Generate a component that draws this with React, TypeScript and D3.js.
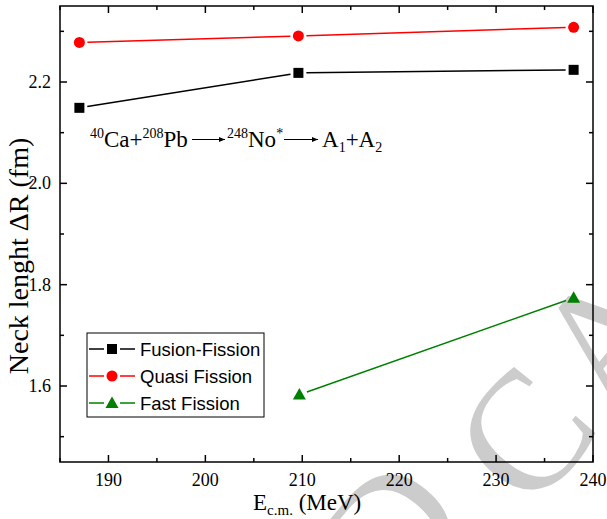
import React from "react";
import * as d3 from "d3";

const energies = [187, 209.6, 238];
const fusionFission = [2.149, 2.218, 2.224];
const quasiFission = [2.278, 2.291, 2.308];
const fastEnergies = [209.7, 238];
const fastFission = [1.583, 1.774];
const xTicks = [190, 200, 210, 220, 230, 240];
const xMinor = [185, 195, 205, 215, 225, 235];
const yTicks = [1.6, 1.8, 2.0, 2.2];
const yMinor = [1.5, 1.7, 1.9, 2.1, 2.3];
const seriesNames = ["Fusion-Fission", "Quasi Fission", "Fast Fission"];
const seriesColors = ["#000000", "#ff0000", "#008000"];
const watermarkLetters = ["D", "C", "A"];
const watermarkDx = [-160, 0, 128];
const watermarkDy = [-40, 0, 0];

const W = 607, H = 519;
const L = 60, R = 593, T = 6, B = 462;

function shorten(p0: [number, number], p1: [number, number], g: number) {
  const dx = p1[0] - p0[0], dy = p1[1] - p0[1];
  const len = Math.hypot(dx, dy);
  const ux = dx / len, uy = dy / len;
  return [p0[0] + ux * g, p0[1] + uy * g, p1[0] - ux * g, p1[1] - uy * g];
}

function Marker({ kind, x, y, color }: { kind: number; x: number; y: number; color: string }) {
  if (kind === 0) return <rect x={x - 5} y={y - 5} width={10} height={10} fill={color} />;
  if (kind === 1) return <circle cx={x} cy={y} r={5.5} fill={color} />;
  return <path d={`M${x},${y - 6.5}L${x + 6.5},${y + 5}L${x - 6.5},${y + 5}Z`} fill={color} />;
}

export default function App() {
  const x = d3.scaleLinear().domain([185, 240]).range([L, R]);
  const y = d3.scaleLinear().domain([1.45, 2.35]).range([B, T]);

  const series = [
    { xs: energies, ys: fusionFission },
    { xs: energies, ys: quasiFission },
    { xs: fastEnergies, ys: fastFission },
  ];

  const serif = "'Liberation Serif', 'Times New Roman', serif";
  const sans = "'Liberation Sans', Arial, sans-serif";

  return (
    <svg width={W} height={H} style={{ position: "absolute", left: 0, top: 0 }}>
      <defs>
        <marker id="ah" viewBox="0 0 12 10" refX="12" refY="5" markerWidth="12" markerHeight="5" orient="auto" markerUnits="userSpaceOnUse">
          <path d="M0,0L12,5L0,10Z" fill="#000" />
        </marker>
      </defs>
      <rect width={W} height={H} fill="#fff" />
      {/* watermark */}
      <g transform="translate(525,435) rotate(-50)" fill="#cccccc" fontFamily={serif} fontSize={170} textAnchor="middle">
        {watermarkLetters.map((c, i) => (
          <text key={c} x={watermarkDx[i]} y={56 + watermarkDy[i]}>{c}</text>
        ))}
      </g>
      {/* frame */}
      <rect x={L} y={T} width={R - L} height={B - T} fill="none" stroke="#000" strokeWidth={1.5} />
      {/* ticks */}
      {xTicks.map((t) => (
        <g key={"xt" + t}>
          <line x1={x(t)} x2={x(t)} y1={B} y2={B - 7} stroke="#000" strokeWidth={1.5} />
          <line x1={x(t)} x2={x(t)} y1={T} y2={T + 7} stroke="#000" strokeWidth={1.5} />
          <text x={x(t)} y={B + 24} textAnchor="middle" fontFamily={serif} fontSize={18}>{t}</text>
        </g>
      ))}
      {xMinor.map((t) => (
        <g key={"xm" + t}>
          <line x1={x(t)} x2={x(t)} y1={B} y2={B - 4} stroke="#000" strokeWidth={1.5} />
          <line x1={x(t)} x2={x(t)} y1={T} y2={T + 4} stroke="#000" strokeWidth={1.5} />
        </g>
      ))}
      {yTicks.map((t) => (
        <g key={"yt" + t}>
          <line x1={L} x2={L + 7} y1={y(t)} y2={y(t)} stroke="#000" strokeWidth={1.5} />
          <line x1={R} x2={R - 7} y1={y(t)} y2={y(t)} stroke="#000" strokeWidth={1.5} />
          <text x={L - 9} y={y(t) + 6} textAnchor="end" fontFamily={serif} fontSize={18}>{d3.format(".1f")(t)}</text>
        </g>
      ))}
      {yMinor.map((t) => (
        <g key={"ym" + t}>
          <line x1={L} x2={L + 4} y1={y(t)} y2={y(t)} stroke="#000" strokeWidth={1.5} />
          <line x1={R} x2={R - 4} y1={y(t)} y2={y(t)} stroke="#000" strokeWidth={1.5} />
        </g>
      ))}
      {/* series */}
      {series.map((s, si) => {
        const pts: [number, number][] = s.xs.map((v, i) => [x(v), y(s.ys[i])]);
        return (
          <g key={"s" + si}>
            {pts.slice(1).map((p, i) => {
              const [x1, y1, x2, y2] = shorten(pts[i], p, 8);
              return <line key={i} x1={x1} y1={y1} x2={x2} y2={y2} stroke={seriesColors[si]} strokeWidth={1.5} />;
            })}
            {pts.map((p, i) => (
              <Marker key={"m" + i} kind={si} x={p[0]} y={p[1]} color={seriesColors[si]} />
            ))}
          </g>
        );
      })}
      {/* legend */}
      <rect x={87} y={333} width={177} height={84} fill="#fff" stroke="#000" strokeWidth={1} />
      {seriesNames.map((n, i) => {
        const cy = 349 + i * 27;
        return (
          <g key={"lg" + i}>
            <line x1={89} x2={104} y1={cy} y2={cy} stroke={seriesColors[i]} strokeWidth={1.5} />
            <line x1={120} x2={135} y1={cy} y2={cy} stroke={seriesColors[i]} strokeWidth={1.5} />
            <Marker kind={i} x={112} y={cy} color={seriesColors[i]} />
            <text x={140} y={cy + 7} fontFamily={sans} fontSize={18.5}>{n}</text>
          </g>
        );
      })}
      {/* annotation */}
      <text x={90} y={147} fontFamily={serif} fontSize={23}>
        <tspan fontSize={14} dy={-9}>40</tspan>
        <tspan dy={9}>Ca+</tspan>
        <tspan fontSize={14} dy={-9}>208</tspan>
        <tspan dy={9}>Pb</tspan>
      </text>
      <line x1={192} x2={225} y1={139.5} y2={139.5} stroke="#000" strokeWidth={1} markerEnd="url(#ah)" />
      <text x={227} y={147} fontFamily={serif} fontSize={23}>
        <tspan fontSize={14} dy={-9}>248</tspan>
        <tspan dy={9}>No</tspan>
        <tspan fontSize={14} dy={-9}>*</tspan>
      </text>
      <line x1={284} x2={318} y1={139.5} y2={139.5} stroke="#000" strokeWidth={1} markerEnd="url(#ah)" />
      <text x={322} y={147} fontFamily={serif} fontSize={23}>
        <tspan>A</tspan>
        <tspan fontSize={14} dy={5}>1</tspan>
        <tspan dy={-5}>+A</tspan>
        <tspan fontSize={14} dy={5}>2</tspan>
      </text>
      {/* axis titles */}
      <text x={253} y={510} fontFamily={serif} fontSize={23}>
        <tspan>E</tspan>
        <tspan fontSize={15} dy={5}>c.m.</tspan>
        <tspan dy={-5}> (MeV)</tspan>
      </text>
      <text transform={`translate(28,256) rotate(-90)`} textAnchor="middle" fontFamily={serif} fontSize={28}>
        Neck lenght ΔR (fm)
      </text>
    </svg>
  );
}
